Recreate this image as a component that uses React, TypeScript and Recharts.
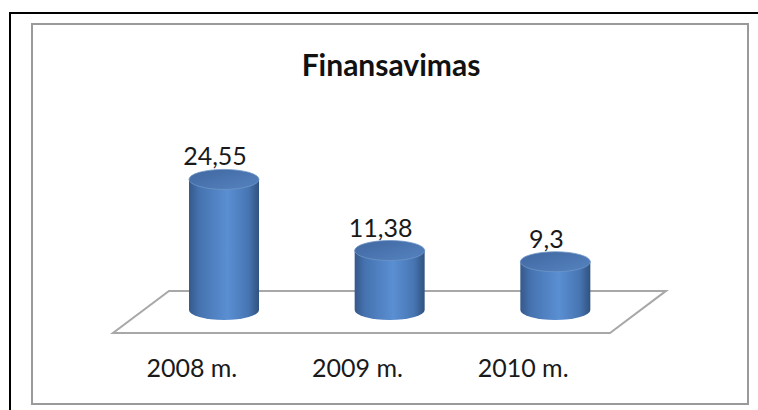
import { BarChart, Bar, XAxis, YAxis, ReferenceArea, LabelList } from "recharts";

const categories = ["2008 m.", "2009 m.", "2010 m."];
const values = [24.55, 11.38, 9.3];

const data = categories.map((name, i) => ({ name, value: values[i] }));

const fmt = (v: number) => String(v).replace(".", ",");

const FONT = "Lato, 'Open Sans', sans-serif";

// cylinder drawn from the bar rectangle
const Cylinder = (props: any) => {
  const { x, y, width, height } = props;
  const rx = width / 2;
  const ry = 10;
  const cx = x + rx;
  const top = y;
  const bottom = y + height - 2;
  const body = `M${x},${top} L${x},${bottom} A${rx},${ry} 0 0 0 ${x + width},${bottom} L${x + width},${top} Z`;
  return (
    <g>
      <path d={body} fill="url(#cylBody)" />
      <ellipse cx={cx} cy={top} rx={rx} ry={ry} fill="url(#cylTop)" stroke="#6f95c6" strokeWidth={0.8} />
    </g>
  );
};

const Floor = (props: any) => {
  const { x, y, width, height } = props;
  const s = 28;
  const pts = [
    [x + s, y],
    [x + width + s, y],
    [x + width - s, y + height],
    [x - s, y + height],
  ]
    .map((p) => p.join(","))
    .join(" ");
  return <polygon points={pts} fill="#fff" stroke="#a8a8a8" strokeWidth={2} />;
};

const ValueLabel = (props: any) => {
  const { x, y, width, value } = props;
  return (
    <text
      x={x + width / 2 - 9}
      y={y - 14}
      textAnchor="middle"
      fontFamily={FONT}
      fontSize={25}
      fill="#1a1a1a"
    >
      {fmt(value)}
    </text>
  );
};

const CategoryTick = (props: any) => {
  const { x, y, payload } = props;
  return (
    <text x={x - 32} y={y + 44} textAnchor="middle" fontFamily={FONT} fontSize={25} fill="#1a1a1a">
      {payload.value}
    </text>
  );
};

export default function App() {
  return (
    <div style={{ position: "absolute", left: 0, top: 0, width: 758, height: 410, background: "#fff", overflow: "hidden" }}>
      <div
        style={{
          position: "absolute",
          left: 9,
          top: 12,
          width: 760,
          height: 420,
          borderLeft: "2px solid #000",
          borderTop: "2px solid #000",
        }}
      />
      <div
        style={{
          position: "absolute",
          left: 31,
          top: 23,
          width: 714,
          height: 378,
          border: "2.5px solid #9a9a9a",
        }}
      />
      <div
        style={{
          position: "absolute",
          left: 0,
          width: 782,
          top: 46,
          textAlign: "center",
          fontFamily: FONT,
          fontWeight: 700,
          fontSize: 30,
          color: "#111",
        }}
      >
        Finansavimas
      </div>
      <div style={{ position: "absolute", left: 0, top: 0 }}>
        <BarChart
          width={758}
          height={410}
          data={data}
          margin={{ top: 150, right: 120, bottom: 33, left: 141 }}
          barSize={70}
        >
          <defs>
            <linearGradient id="cylBody" x1="0" y1="0" x2="1" y2="0">
              <stop offset="0%" stopColor="#35598c" />
              <stop offset="15%" stopColor="#4673b0" />
              <stop offset="55%" stopColor="#5a8fd3" />
              <stop offset="85%" stopColor="#4775b2" />
              <stop offset="100%" stopColor="#30527f" />
            </linearGradient>
            <linearGradient id="cylTop" x1="0" y1="0" x2="1" y2="1">
              <stop offset="0%" stopColor="#4067a0" />
              <stop offset="100%" stopColor="#5583c0" />
            </linearGradient>
          </defs>
          <YAxis hide domain={[-3.9, 30]} allowDataOverflow />
          <XAxis
            dataKey="name"
            axisLine={false}
            tickLine={false}
            tickSize={0}
            tickMargin={0}
            height={44}
            tick={<CategoryTick />}
          />
          <ReferenceArea y1={-3.9} y2={3.9} shape={<Floor />} ifOverflow="visible" />
          <Bar dataKey="value" shape={<Cylinder />} isAnimationActive={false}>
            <LabelList dataKey="value" content={<ValueLabel />} />
          </Bar>
        </BarChart>
      </div>
    </div>
  );
}
